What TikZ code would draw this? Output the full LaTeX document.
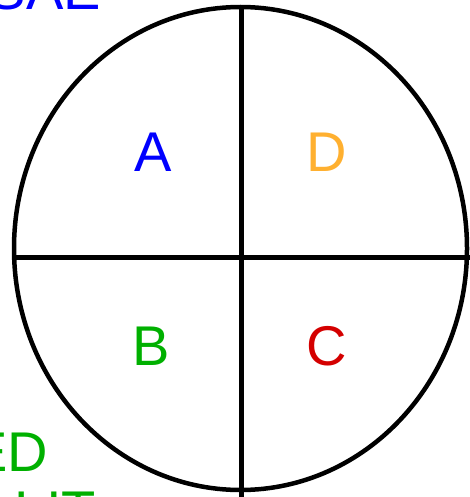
\documentclass[tikz,border=0pt]{standalone}
\usepackage{fontspec}
\setmainfont{Liberation Sans}
\usepackage{xcolor}
\usepackage{tikz}
\definecolor{regA}{HTML}{0000FF}
\definecolor{regB}{HTML}{00B000}
\definecolor{regC}{HTML}{D40000}
\definecolor{regD}{HTML}{FFB030}
\newcommand{\BigFont}{\fontsize{56}{60}\selectfont}
\tikzset{
  region/.style={font=\BigFont,inner sep=0pt},
  divider/.style={line width=5pt,black}
}
\begin{document}
\begin{tikzpicture}[x=1pt,y=-1pt]
          \useasboundingbox (0,0) rectangle (469,497);
          \draw[line width=4.5pt] (240.5,248.5) ellipse [x radius=226.5,y radius=241.5];
          \coordinate (top) at (241.5,7);
          \coordinate (bot) at (241.5,500);
          \coordinate (lft) at (14,257);
          \coordinate (rgt) at (472,257);
          \draw[divider] (top) -- (bot);
          \draw[divider] (lft) -- (rgt);
          \node[region,regA] (a) at (153.5,152.5) {A};
          \node[region,regD] (d) at (327,152.5) {D};
          \node[region,regB] (b) at (151.5,346) {B};
          \node[region,regC] (c) at (326.5,346) {C};
          % labels cut by the frame
          \node[region,regA,anchor=base east] (upper) at (101,10) {SAE};
          \node[region,regB,anchor=base east] (lower) at (48,471) {ED};
          \node[region,regB,anchor=base east] (lowest) at (96,530) {LIT};
        \end{tikzpicture}
\end{document}
